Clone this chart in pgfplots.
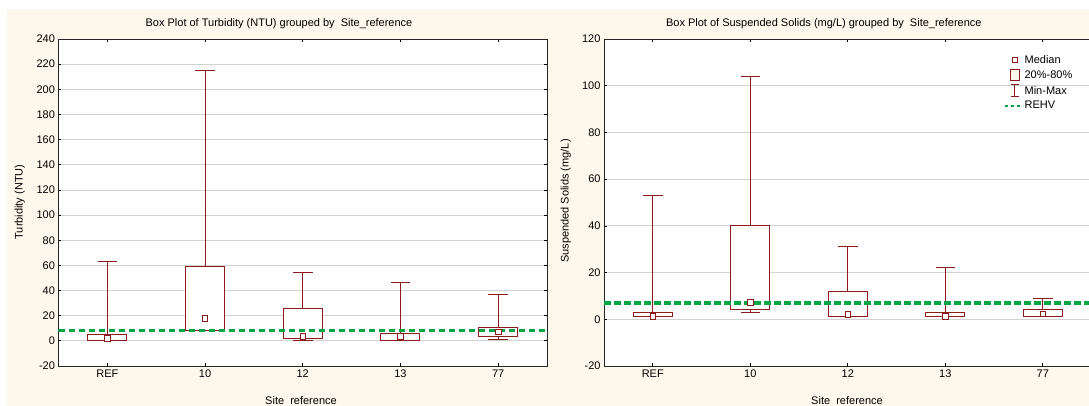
\documentclass[border=0pt]{standalone}
\usepackage{fontspec}
\setmainfont{Liberation Sans}
\usepackage{pgfplots}
\pgfplotsset{compat=1.18}
\usepgfplotslibrary{statistics}
\definecolor{boxred}{HTML}{8B1C1C}
\definecolor{cream}{HTML}{FDF8EB}
\definecolor{rehv}{HTML}{00A544}
\definecolor{gridc}{HTML}{D2D2D2}
\newcommand{\fs}{\fontsize{11bp}{13bp}\selectfont}
\pgfplotsset{
  panel/.style={
    scale only axis, height=327bp,
    axis background/.style={fill=white},
    ymajorgrids, major grid style={gridc, line width=0.8bp},
    axis line style={black!85, line width=0.9bp},
    tick style={black, line width=0.7bp}, major tick length=3bp,
    tick align=inside,
    xmin=-0.5, xmax=4.5, xtick={0,1,2,3,4}, xticklabels={REF,10,12,13,77},
    ticklabel style={font=\fs},
    /pgf/number format/assume math mode=true,
    boxplot/draw direction=y,
    boxplot/draw/median/.code={},
    boxplot/every box/.style={draw=boxred, fill=white},
    bx/.style={color=boxred, line width=1bp, fill=white, solid, mark=none, forget plot},
  },
  bxp/.style n args={6}{bx, boxplot prepared={draw position=#1, lower whisker=#2, lower quartile=#3, median=#4, upper quartile=#5, upper whisker=#6, box extend=0.4, whisker extend=0.2}},
  medmarks/.style={only marks, mark=square*, mark size=2.8bp, mark options={draw=boxred, fill=white, line width=0.9bp}, forget plot},
  rehvline/.style={rehv, line width=3.3bp, dash pattern=on 6.7bp off 3.3bp, forget plot},
}
\begin{document}
\begin{tikzpicture}
\useasboundingbox (0,0) rectangle (1089bp,406bp);
\fill[cream] (7.3bp,0) rectangle (1089bp,397bp);
% ---------- left panel ----------
\begin{axis}[panel, at={(58.5bp,40bp)}, anchor=south west, width=488.5bp,
  ymin=-20, ymax=240, ytick={-20,0,...,240}]
\addplot[bxp={0}{0}{0}{2}{5}{63}] coordinates {};
\addplot[bxp={1}{8}{8.6}{18}{59}{215}] coordinates {};
\addplot[bxp={2}{0.5}{2}{3.3}{26}{54}] coordinates {};
\addplot[bxp={3}{0}{0.5}{3.3}{6}{46}] coordinates {};
\addplot[bxp={4}{1.3}{3.1}{7.2}{10.5}{37}] coordinates {};
\addplot[rehvline] coordinates {(-0.5,8) (4.5,8)};
\addplot[medmarks] coordinates {(0,2) (1,18) (2,3.3) (3,3.3) (4,7.2)};
\end{axis}
% ---------- right panel ----------
\begin{axis}[panel, at={(604bp,40bp)}, anchor=south west, width=487.5bp,
  ymin=-20, ymax=120, ytick={-20,0,...,120},
  legend style={at={(0.814,0.96)}, anchor=north west, draw=none, fill=none,
    font=\fs, row sep=3bp, nodes={inner sep=1bp}},
  legend cell align=left]
\addlegendimage{legend image code/.code={\draw[boxred, line width=0.9bp, fill=white] (7.3bp,-2.8bp) rectangle (12.9bp,2.8bp);}}
\addlegendentry{Median}
\addlegendimage{legend image code/.code={\draw[boxred, line width=0.9bp, fill=cream] (5.6bp,-5.8bp) rectangle (14.6bp,5.8bp);}}
\addlegendentry{20\%-80\%}
\addlegendimage{legend image code/.code={\draw[boxred, line width=0.9bp] (10.1bp,-6.1bp) -- (10.1bp,6.1bp) (5.8bp,-6.1bp) -- (14.4bp,-6.1bp) (5.8bp,6.1bp) -- (14.4bp,6.1bp);}}
\addlegendentry{Min-Max}
\addlegendimage{legend image code/.code={\draw[rehv, line width=1.6bp, dash pattern=on 3bp off 3bp] (0bp,0bp) -- (18bp,0bp);}}
\addlegendentry{REHV}
\addplot[bxp={0}{1}{1}{1.3}{3}{53}] coordinates {};
\addplot[bxp={1}{3}{4}{7.2}{40}{104}] coordinates {};
\addplot[bxp={2}{1}{1}{2}{12}{31}] coordinates {};
\addplot[bxp={3}{1}{1}{1.3}{3}{22}] coordinates {};
\addplot[bxp={4}{1}{1}{2.2}{4}{9}] coordinates {};
\addplot[rehvline] coordinates {(-0.5,7) (4.5,7)};
\addplot[medmarks] coordinates {(0,1.3) (1,7.2) (2,2) (3,1.3) (4,2.2)};
\end{axis}
% ---------- titles and labels ----------
\node[font=\fs] at (279bp,382.7bp) {Box Plot of Turbidity (NTU) grouped by~ Site\_reference};
\node[font=\fs] at (823.8bp,382.7bp) {Box Plot of Suspended Solids (mg/L) grouped by~ Site\_reference};
\node[font=\fs] at (301bp,5bp) {Site~ reference};
\node[font=\fs] at (847bp,5bp) {Site~ reference};
\node[font=\fs, rotate=90] at (19.8bp,204bp) {Turbidity (NTU)};
\node[font=\fs, rotate=90] at (565.8bp,205bp) {Suspended Solids (mg/L)};
\end{tikzpicture}
\end{document}
